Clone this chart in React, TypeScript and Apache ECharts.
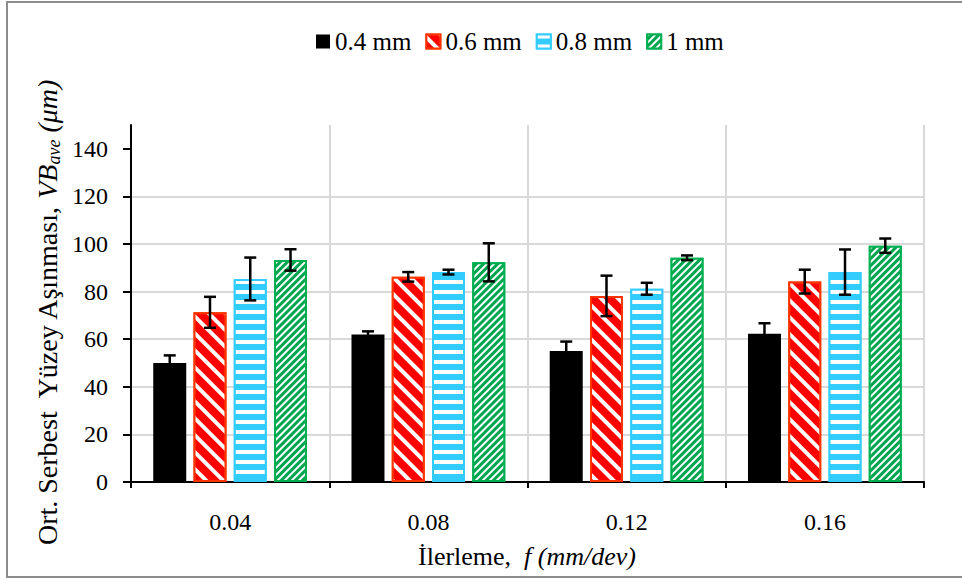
import React, { useEffect, useRef } from 'react';
import * as echarts from 'echarts';

const categories = ['0.04', '0.08', '0.12', '0.16'];
const seriesNames = ['0.4 mm', '0.6 mm', '0.8 mm', '1 mm'];
const values04 = [50, 62, 55, 62.3];
const errors04 = [3.2, 1.3, 4, 4.4];
const values06 = [71.3, 86.2, 78.2, 84.2];
const errors06 = [6.5, 2, 8.5, 5];
const values08 = [85.3, 88.2, 81.2, 88.2];
const errors08 = [9, 1, 2.5, 9.5];
const values10 = [93.3, 92.3, 94.2, 99.3];
const errors10 = [4.5, 8, 1, 3];
const yTicks = [0, 20, 40, 60, 80, 100, 120, 140];

const FONT = "'Liberation Serif', 'Times New Roman', serif";
const BAR_W = 33;
const GAP = 0.22;
const PITCH = BAR_W * (1 + GAP);

export default function App() {
  const ref = useRef<HTMLDivElement>(null);
  useEffect(() => {
    if (!ref.current) return;
    const chart = echarts.init(ref.current, null, { renderer: 'svg' });
    const allVals = [values04, values06, values08, values10];
    const allErrs = [errors04, errors06, errors08, errors10];
    const styles: any[] = [
      { color: '#000000' },
      {
        color: '#ff0000', borderColor: '#ff3300', borderWidth: 2,
        decal: { symbol: 'rect', symbolSize: 1, dashArrayX: [12, 0], dashArrayY: [4, 8], rotation: Math.PI / 4, color: '#ffffff' },
      },
      {
        color: '#33ccff', borderColor: '#33ccff', borderWidth: 2,
        decal: { symbol: 'rect', symbolSize: 1, dashArrayX: [12, 0], dashArrayY: [3.5, 6], rotation: 0, color: '#ffffff' },
      },
      {
        color: '#00a550', borderColor: '#00b050', borderWidth: 2,
        decal: { symbol: 'rect', symbolSize: 1, dashArrayX: [12, 0], dashArrayY: [2, 3], rotation: -Math.PI / 4, color: '#ffffff' },
      },
    ];
    const bars = seriesNames.map((name, k) => ({
      type: 'bar',
      name,
      data: allVals[k],
      barWidth: BAR_W,
      barGap: GAP * 100 + '%',
      itemStyle: styles[k],
      z: 2,
    }));
    const errs = seriesNames.map((name, k) => ({
      type: 'custom',
      name: 'err' + k,
      data: allVals[k].map((v, i) => [i, v, allErrs[k][i]]),
      z: 10,
      silent: true,
      renderItem: (params: any, api: any) => {
        const i = api.value(0);
        const v = api.value(1);
        const e = api.value(2);
        const top = api.coord([i, v + e]);
        const bot = api.coord([i, v - e]);
        const x = top[0] + (k - 1.5) * PITCH;
        const cap = 6;
        const st = { stroke: '#000', lineWidth: 2.5 };
        return {
          type: 'group',
          children: [
            { type: 'line', shape: { x1: x, y1: top[1], x2: x, y2: bot[1] }, style: st },
            { type: 'line', shape: { x1: x - cap, y1: top[1], x2: x + cap, y2: top[1] }, style: st },
            { type: 'line', shape: { x1: x - cap, y1: bot[1], x2: x + cap, y2: bot[1] }, style: st },
          ],
        };
      },
    }));
    const option: any = {
      animation: false,
      backgroundColor: '#ffffff',
      textStyle: { fontFamily: FONT },
      grid: { left: 131, right: 38, top: 125, bottom: 98, containLabel: false },
      legend: {
        data: seriesNames,
        left: 311,
        top: 24,
        icon: 'rect',
        itemWidth: 14,
        itemHeight: 14,
        itemGap: 14,
        textStyle: { fontSize: 25, color: '#000', fontFamily: FONT },
      },
      xAxis: {
        type: 'category',
        data: categories,
        axisLine: { lineStyle: { color: '#000', width: 2 } },
        axisTick: { show: true, length: 6, lineStyle: { color: '#000', width: 2 } },
        axisLabel: { fontSize: 24, color: '#000', fontFamily: FONT, margin: 28 },
        splitLine: { show: true, lineStyle: { color: '#d9d9d9', width: 2 } },
      },
      yAxis: {
        type: 'value',
        min: 0,
        max: 150,
        interval: 20,
        axisLine: { show: true, lineStyle: { color: '#000', width: 2 } },
        axisTick: { show: true, length: 8, customValues: yTicks, lineStyle: { color: '#000', width: 2 } },
        axisLabel: {
          fontSize: 24, color: '#000', fontFamily: FONT, margin: 23,
          formatter: (v: number) => (yTicks.indexOf(v) >= 0 ? String(v) : ''),
        },
        splitLine: { show: true, showMaxLine: false, lineStyle: { color: '#d9d9d9', width: 2 } },
      },
      graphic: [
        {
          type: 'rect',
          shape: { x: 7, y: 2, width: 990, height: 575 },
          style: { fill: 'none', stroke: '#8c8c8c', lineWidth: 2 },
          silent: true,
        },
        {
          type: 'text',
          x: 47,
          y: 313,
          rotation: Math.PI / 2,
          style: {
            text: '{n|Ort. Serbest  Yüzey Aşınması, }{i|VB}{s|ave}{i| (μm)}',
            align: 'center',
            verticalAlign: 'middle',
            rich: {
              n: { fontSize: 28, fontFamily: FONT, fill: '#000', lineHeight: 32 },
              i: { fontSize: 28, fontFamily: FONT, fontStyle: 'italic', fill: '#000', lineHeight: 32 },
              s: { fontSize: 18, fontFamily: FONT, fontStyle: 'italic', fill: '#000', lineHeight: 18, verticalAlign: 'bottom' },
            },
          },
        },
        {
          type: 'text',
          x: 527,
          y: 556,
          style: {
            text: '{n|İlerleme,  }{i|f (mm/dev)}',
            align: 'center',
            verticalAlign: 'middle',
            rich: {
              n: { fontSize: 26, fontFamily: FONT, fill: '#000' },
              i: { fontSize: 26, fontFamily: FONT, fontStyle: 'italic', fill: '#000' },
            },
          },
        },
      ],
      series: [...bars, ...errs],
    };
    chart.setOption(option);
    return () => chart.dispose();
  }, []);
  return (
    <div
      ref={ref}
      style={{ position: 'absolute', left: 0, top: 0, width: 962, height: 580, background: '#fff' }}
    />
  );
}
